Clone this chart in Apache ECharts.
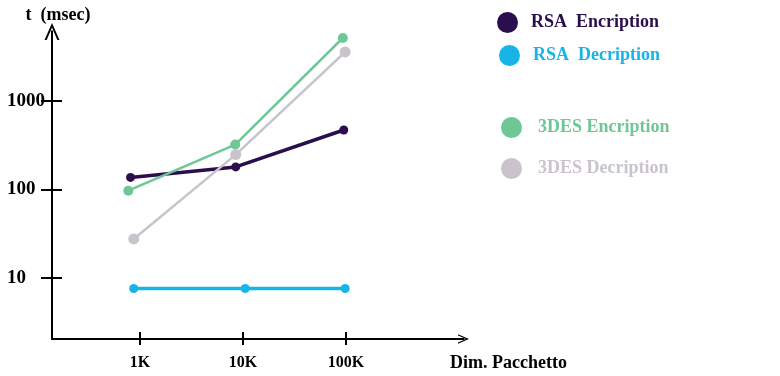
<!DOCTYPE html>
<html style="height: 100%; width: 100%">
<head>
  <meta charset="utf-8" />
  <script src="https://cdn.jsdelivr.net/npm/echarts@6/dist/echarts.min.js"></script>
</head>
<body style="height: 100%; width: 100%; margin: 0; background: #fff;">
  <div id="chart-panel" style="width: 780px; height: 376px;"></div>
  <script type="text/javascript">
    // valori (scala logaritmica su entrambi gli assi)
    var seriesNames = ["RSA  Encription", "RSA  Decription", "3DES Encription", "3DES Decription"];
    var rsaEncX = [810, 8500, 95000];
    var rsaEncY = [137, 180, 470];
    var rsaDecX = [870, 10500, 98000];
    var rsaDecY = [7.6, 7.6, 7.6];
    var desEncX = [770, 8400, 93000];
    var desEncY = [97, 322, 5150];
    var desDecX = [870, 8500, 98000];
    var desDecY = [27.6, 248, 3580];
    var xTicks = [1000, 10000, 100000];
    var yTicks = [10, 100, 1000];

    var colors = ["#2b0e4d", "#18b4e8", "#6fc697", "#c9c4cc"];
    var font = "'Liberation Serif', 'Times New Roman', serif";
    var chevron = "path://M0,17 L7.5,0 L15,17 L12.8,17 L7.5,4.5 L2.2,17 Z";

    var dom = document.getElementById("chart-panel");
    var myChart = echarts.init(dom);

    function pairs(xs, ys) {
      return xs.map(function (x, i) { return [x, ys[i]]; });
    }

    function kLabel(v) {
      return Math.round(v / 1000) + "K";
    }

    function makeSeries(i, xs, ys, width, size) {
      return {
        name: seriesNames[i],
        type: "line",
        data: pairs(xs, ys),
        symbol: "circle",
        symbolSize: size,
        lineStyle: { color: colors[i], width: width },
        itemStyle: { color: colors[i] },
      };
    }

    function makeLegend(i, left, top, pad) {
      return {
        data: [seriesNames[i]],
        left: left,
        top: top,
        icon: "circle",
        itemWidth: 21,
        itemHeight: 21,
        selectedMode: false,
        textStyle: {
          color: colors[i],
          fontFamily: font,
          fontWeight: "bold",
          fontSize: 18,
          padding: [0, 0, 0, pad],
        },
      };
    }

    // secondo asse solo per la parte interna delle tacche (che attraversano l'asse);
    // la sua linea coincide con quella dell'asse principale
    var innerTicks = {
      type: "log",
      axisLine: { show: true, lineStyle: { color: "#000", width: 2 } },
      axisLabel: { show: false },
      splitLine: { show: false },
    };

    var option = {
      animation: false,
      backgroundColor: "#fff",
      grid: {
        left: 52,
        top: 31.5,
        right: 316.5,
        bottom: 37,
        containLabel: false,
        outerBoundsMode: "none",
      },
      legend: [
        makeLegend(0, 492, 7, 8),
        makeLegend(1, 494, 40, 8),
        makeLegend(2, 496, 112, 11),
        makeLegend(3, 496, 153, 11),
      ],
      xAxis: [
        {
          type: "log",
          min: 140,
          max: 1380000,
          name: "Dim. Pacchetto",
          nameLocation: "end",
          nameGap: -13.5,
          nameTextStyle: {
            color: "#000",
            fontFamily: font,
            fontWeight: "bold",
            fontSize: 18,
            verticalAlign: "top",
            padding: [15, 0, 0, 0],
          },
          axisLine: {
            lineStyle: { color: "#000", width: 2 },
            symbol: ["none", chevron],
            symbolSize: [11, 11],
          },
          axisTick: { customValues: xTicks, length: 6, lineStyle: { color: "#000", width: 2 } },
          axisLabel: {
            customValues: xTicks,
            formatter: kLabel,
            margin: 16,
            color: "#000",
            fontFamily: font,
            fontWeight: "bold",
            fontSize: 16,
          },
          splitLine: { show: false },
          minorTick: { show: false },
          minorSplitLine: { show: false },
        },
        Object.assign({}, innerTicks, {
          min: 140,
          max: 1380000,
          position: "bottom",
          axisTick: { show: true, customValues: xTicks, inside: true, length: 7, lineStyle: { color: "#000", width: 2 } },
        }),
      ],
      yAxis: [
        {
          type: "log",
          min: 2.045,
          max: 6100,
          name: "t  (msec)",
          nameLocation: "end",
          nameGap: 7,
          nameTextStyle: {
            color: "#000",
            fontFamily: font,
            fontWeight: "bold",
            fontSize: 18,
            padding: [0, 0, 0, 12],
          },
          axisLine: {
            show: true,
            lineStyle: { color: "#000", width: 2 },
            symbol: ["none", chevron],
            symbolSize: [15, 17],
          },
          axisTick: { show: true, customValues: yTicks, length: 11, lineStyle: { color: "#000", width: 2 } },
          axisLabel: {
            customValues: yTicks,
            formatter: function (v) { return String(v); },
            align: "left",
            margin: 45,
            color: "#000",
            fontFamily: font,
            fontWeight: "bold",
            fontSize: 19,
          },
          splitLine: { show: false },
          minorTick: { show: false },
          minorSplitLine: { show: false },
        },
        Object.assign({}, innerTicks, {
          min: 2.045,
          max: 6100,
          position: "left",
          axisTick: { show: true, customValues: yTicks, inside: true, length: 10, lineStyle: { color: "#000", width: 2 } },
        }),
      ],
      series: [
        makeSeries(0, rsaEncX, rsaEncY, 3.5, 9),
        makeSeries(1, rsaDecX, rsaDecY, 3.5, 9),
        makeSeries(2, desEncX, desEncY, 2.5, 10),
        makeSeries(3, desDecX, desDecY, 2.5, 11),
        // serie vuota per agganciare gli assi interni
        { type: "line", xAxisIndex: 1, yAxisIndex: 1, data: [] },
      ],
    };

    myChart.setOption(option);
  </script>
</body>
</html>
